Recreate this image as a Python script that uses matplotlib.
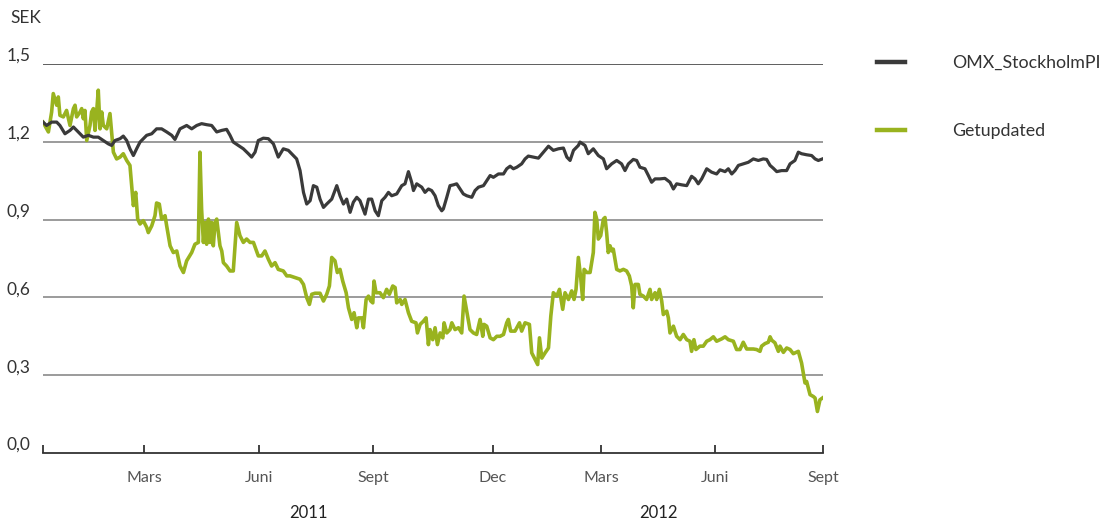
import matplotlib
matplotlib.use('Agg')
import matplotlib.pyplot as plt
from matplotlib.ticker import FuncFormatter, FixedLocator
import matplotlib.transforms as mtransforms

plt.rcParams['font.family'] = ['Lato', 'DejaVu Sans']

# x = handelsdag (index från start), y = SEK
omx_day = [0, 2.0, 4.8, 7.6, 9.4, 12.2, 15, 16.9, 19.6, 22.4, 25.2, 28, 30.7, 33.5, 36.3, 38.1, 40, 42.8, 44.6,
           46.5, 48.3, 50.2, 52, 53.9, 57.6, 60.4, 63.1, 65.9, 68.7, 71.5, 73.3, 76.1, 79.8, 82.6, 85.4, 88.1,
           90.9, 93.7, 96.5, 99.3, 102, 103.9, 105.7, 108.5, 111.3, 114.1, 115.9, 117.8, 119.6, 122.4, 125.2,
           128, 130.7, 133.5, 136.3, 139.1, 140.9, 142.8, 144.7, 146.5, 148.4, 150.2, 152.1, 153.9, 155.8,
           157.6, 160.4, 163.2, 165.0, 166.9, 168.7, 170.6, 172.4, 174.3, 176.1, 178.9, 180.8, 182.6, 184.5,
           186.3, 188.2, 190.0, 191.9, 193.7, 196.5, 199.3, 201.1, 203.0, 204.8, 205.8, 207.6, 210.4, 212.2,
           214.1, 215.9, 217.8, 219.6, 221.5, 222.4, 224.3, 226.1, 228.0, 229.8, 231.7, 233.5, 235.4, 238.2,
           240.0, 241.9, 244.7, 246.5, 248.4, 250.2, 253.0, 255.8, 257.6, 259.5, 261.3, 263.2, 265.9, 267.8,
           269.6, 272.4, 275.2, 278.0, 280.8, 283.5, 286.3, 289.1, 291.0, 292.8, 294.7, 297.4, 298.3, 301.1,
           302.9, 305.7, 308.5, 311.3, 313.1, 315.9, 318.7, 321.4, 323.3, 325.2, 327.9, 329.8, 331.6, 334.4,
           336.3, 338.1, 340.0, 342.7, 345.5, 348.3, 350.2, 352.0, 354.8, 357.6, 360.3, 362.2, 364.0, 365.9,
           368.7, 371.4, 374.2, 376.1, 378.9, 380.7, 382.6, 384.4, 386.3, 389.0, 391.8, 394.6, 397.4, 400.1,
           402.0, 403.9, 405.7, 407.6, 410.3, 413.1, 415.0, 417.7, 419.6, 421.4, 424.2, 427.0, 428.9, 430.7, 433]
omx_val = [1.276, 1.263, 1.276, 1.276, 1.263, 1.231, 1.244, 1.257, 1.238, 1.218, 1.225, 1.218, 1.218, 1.205,
           1.192, 1.186, 1.205, 1.212, 1.222, 1.205, 1.173, 1.147, 1.173, 1.199, 1.225, 1.231, 1.250, 1.250,
           1.238, 1.225, 1.209, 1.250, 1.263, 1.250, 1.263, 1.270, 1.266, 1.263, 1.238, 1.244, 1.248, 1.225,
           1.199, 1.186, 1.173, 1.154, 1.141, 1.160, 1.205, 1.214, 1.212, 1.192, 1.141, 1.173, 1.167, 1.147,
           1.134, 1.089, 1.005, 0.960, 0.973, 1.031, 1.025, 0.979, 0.947, 0.960, 0.979, 1.031, 0.992, 0.960,
           0.979, 0.928, 0.967, 0.986, 0.973, 0.921, 0.979, 0.979, 0.934, 0.915, 0.973, 0.986, 1.005, 0.992,
           0.999, 1.031, 1.038, 1.085, 1.044, 1.012, 1.038, 1.025, 1.005, 1.018, 1.012, 0.992, 0.954, 0.934,
           0.941, 0.986, 1.031, 1.034, 1.038, 1.018, 0.999, 0.992, 0.986, 1.012, 1.025, 1.031, 1.050, 1.070,
           1.063, 1.076, 1.076, 1.096, 1.106, 1.096, 1.102, 1.115, 1.134, 1.145, 1.141, 1.137, 1.160, 1.183,
           1.167, 1.173, 1.176, 1.141, 1.128, 1.167, 1.186, 1.199, 1.186, 1.154, 1.173, 1.147, 1.134, 1.096,
           1.115, 1.128, 1.115, 1.089, 1.115, 1.132, 1.128, 1.102, 1.096, 1.070, 1.044, 1.057, 1.057, 1.059,
           1.044, 1.018, 1.038, 1.034, 1.031, 1.067, 1.057, 1.038, 1.057, 1.096, 1.083, 1.076, 1.092, 1.085,
           1.096, 1.076, 1.089, 1.109, 1.115, 1.121, 1.134, 1.128, 1.134, 1.132, 1.109, 1.098, 1.085, 1.089,
           1.089, 1.115, 1.128, 1.160, 1.154, 1.150, 1.147, 1.134, 1.128, 1.134]

get_day = [0, 3.0, 4.8, 5.7, 7.6, 8.5, 9.4, 11.3, 13.1, 15.0, 16.9, 17.8, 18.7, 20.6, 21.5, 22.4, 23.3, 24.3,
           26.1, 27.0, 28.0, 28.9, 29.8, 30.7, 31.7, 32.6, 33.5, 35.4, 37.2, 38.1, 39.1, 40.9, 42.8, 44.6, 46.5,
           48.3, 50.2, 51.5, 52.6, 53.9, 55.7, 57.6, 58.5, 60.4, 62.2, 63.1, 64.6, 65.9, 67.8, 68.7, 70.6, 72.4,
           74.3, 76.1, 78.0, 79.8, 82.6, 84.4, 86.3, 87.2, 88.1, 89.1, 90.0, 90.9, 91.9, 92.8, 93.7, 94.6, 95.6,
           96.5, 98.3, 99.3, 100.2, 102.0, 103.9, 105.7, 107.6, 109.4, 111.3, 113.1, 115.0, 116.9, 119.6, 121.5,
           123.3, 125.2, 127.0, 128.9, 130.7, 133.5, 135.4, 137.2, 142.8, 144.7, 146.5, 148.0, 149.3, 151.1,
           153.9, 155.8, 157.6, 159.1, 160.4, 162.2, 163.5, 165.0, 166.5, 168.4, 169.7, 171.5, 172.8, 174.3,
           175.2, 177.1, 178.0, 179.5, 180.8, 182.1, 183.2, 183.9, 185.0, 187.2, 189.1, 190.9, 192.4, 194.3,
           195.6, 196.5, 198.4, 199.3, 201.1, 203.0, 204.8, 207.2, 208.0, 209.5, 211.3, 212.8, 214.1, 215.0,
           216.5, 217.8, 219.1, 220.6, 222.1, 222.8, 224.3, 226.1, 227.1, 228.9, 230.8, 232.6, 233.9, 235.4,
           237.2, 239.1, 240.9, 242.8, 244.3, 245.0, 246.5, 248.4, 250.2, 252.1, 253.9, 255.8, 257.6, 258.5,
           259.8, 262.2, 264.7, 265.9, 267.8, 270.2, 271.5, 273.4, 274.8, 275.8, 277.1, 278.9, 280.8, 282.1,
           283.5, 285.4, 286.9, 288.7, 290.0, 291.9, 293.7, 295.0, 296.1, 297.4, 298.7, 299.8, 300.6, 302.1,
           303.9, 305.7, 306.6, 307.6, 308.5, 309.8, 311.3, 312.2, 313.1, 314.0, 315.0, 315.9, 316.8, 318.7,
           320.5, 322.4, 324.2, 325.7, 327.0, 327.9, 328.9, 330.7, 331.6, 333.5, 335.3, 337.2, 338.1, 340.0,
           340.9, 342.4, 343.7, 344.6, 346.5, 347.4, 348.3, 350.2, 352.0, 353.9, 355.7, 357.6, 359.4, 360.3,
           361.6, 362.7, 364.9, 366.8, 368.7, 370.5, 372.4, 374.2, 377.0, 378.9, 380.7, 383.5, 385.3, 387.2,
           389.0, 390.9, 394.6, 396.4, 398.3, 399.2, 401.1, 402.9, 403.9, 404.8, 406.6, 408.5, 409.4, 411.3,
           413.1, 415.0, 416.8, 419.6, 421.4, 423.3, 424.2, 426.1, 427.9, 428.9, 430.2, 431.6, 433]
get_val = [1.276, 1.238, 1.315, 1.386, 1.341, 1.373, 1.302, 1.296, 1.321, 1.263, 1.328, 1.341, 1.296, 1.315,
           1.328, 1.289, 1.321, 1.205, 1.263, 1.315, 1.328, 1.244, 1.315, 1.399, 1.250, 1.315, 1.263, 1.250,
           1.309, 1.238, 1.160, 1.134, 1.141, 1.154, 1.128, 1.109, 0.954, 1.005, 0.902, 0.883, 0.896, 0.870,
           0.850, 0.876, 0.915, 0.964, 0.960, 0.902, 0.915, 0.876, 0.799, 0.773, 0.779, 0.721, 0.696, 0.741,
           0.773, 0.805, 0.812, 1.160, 0.941, 0.812, 0.889, 0.805, 0.902, 0.812, 0.889, 0.799, 0.889, 0.902,
           0.799, 0.779, 0.734, 0.721, 0.702, 0.702, 0.889, 0.838, 0.812, 0.825, 0.812, 0.812, 0.760, 0.760,
           0.779, 0.747, 0.721, 0.734, 0.708, 0.702, 0.683, 0.683, 0.670, 0.650, 0.599, 0.573, 0.612, 0.616,
           0.616, 0.586, 0.612, 0.644, 0.754, 0.741, 0.696, 0.708, 0.663, 0.618, 0.560, 0.515, 0.541, 0.483,
           0.521, 0.521, 0.483, 0.592, 0.605, 0.586, 0.579, 0.663, 0.618, 0.618, 0.599, 0.631, 0.612, 0.644,
           0.638, 0.579, 0.592, 0.573, 0.592, 0.541, 0.508, 0.502, 0.463, 0.496, 0.508, 0.521, 0.418, 0.476,
           0.437, 0.483, 0.418, 0.463, 0.444, 0.502, 0.463, 0.476, 0.502, 0.476, 0.483, 0.463, 0.605, 0.547,
           0.476, 0.463, 0.457, 0.515, 0.450, 0.496, 0.489, 0.444, 0.437, 0.450, 0.450, 0.457, 0.502, 0.515,
           0.470, 0.470, 0.502, 0.470, 0.502, 0.496, 0.386, 0.360, 0.341, 0.444, 0.366, 0.386, 0.405, 0.528,
           0.618, 0.605, 0.631, 0.554, 0.618, 0.592, 0.625, 0.592, 0.631, 0.754, 0.676, 0.592, 0.708, 0.696,
           0.696, 0.773, 0.928, 0.902, 0.825, 0.838, 0.902, 0.908, 0.850, 0.773, 0.799, 0.779, 0.786, 0.708,
           0.702, 0.708, 0.702, 0.683, 0.644, 0.560, 0.650, 0.650, 0.612, 0.605, 0.592, 0.631, 0.592, 0.618,
           0.592, 0.631, 0.586, 0.534, 0.547, 0.521, 0.463, 0.489, 0.450, 0.437, 0.457, 0.437, 0.431, 0.392,
           0.437, 0.399, 0.412, 0.412, 0.431, 0.437, 0.448, 0.431, 0.440, 0.448, 0.437, 0.431, 0.399, 0.399,
           0.427, 0.401, 0.401, 0.399, 0.392, 0.412, 0.422, 0.427, 0.448, 0.435, 0.425, 0.392, 0.412, 0.388,
           0.405, 0.399, 0.383, 0.392, 0.347, 0.270, 0.276, 0.225, 0.218, 0.212, 0.160, 0.205, 0.212]

# månadsmarkeringar (handelsdag-index) och etiketter
tick_pos = [0, 56.1, 120, 183.3, 250, 310, 373.3, 433.3]
tick_lab = ['', 'Mars', 'Juni', 'Sept', 'Dec', 'Mars', 'Juni', 'Sept']
year_pos = [147.2, 341.7]
year_lab = ['2011', '2012']
y_ticks = [0.0, 0.3, 0.6, 0.9, 1.2, 1.5]

DARK = '#3a3a3a'
GREEN = '#99b31f'


# decimalkomma
def to_comma(y, position):
    return ('%.1f' % y).replace('.', ',')


fig = plt.figure(figsize=(11.06, 5.21), dpi=100)
ax = fig.add_axes([43 / 1106, 68 / 521, 780 / 1106, 389 / 521])

# stödlinjer
for yv in y_ticks[1:]:
    ax.axhline(yv, color='#333333' if yv == 1.5 else '#808080', lw=1.1, zorder=1)

l1, = ax.plot(omx_day, omx_val, color=DARK, lw=2.3, label='OMX_StockholmPI', zorder=3)
l2, = ax.plot(get_day, get_val, color=GREEN, lw=2.6, label='Getupdated', zorder=2)

ax.set_xlim(0, 433.3)
ax.set_ylim(0, 1.5)

for s in ['top', 'right', 'left']:
    ax.spines[s].set_visible(False)
ax.spines['bottom'].set_color('#333333')
ax.spines['bottom'].set_linewidth(1.3)

ax.xaxis.set_major_locator(FixedLocator(tick_pos))
ax.set_xticklabels(tick_lab)
ax.tick_params(axis='x', direction='in', length=6, width=1.3, color='#333333',
               pad=13, labelsize=11.5, labelcolor='#555555')

ax.set_yticks(y_ticks)
ax.yaxis.set_major_formatter(FuncFormatter(to_comma))
ax.tick_params(axis='y', length=0, pad=9, labelsize=12.5, labelcolor='#333333')
for lab in ax.get_yticklabels():
    lab.set_verticalalignment('bottom')

# årtal under axeln
trans = mtransforms.blended_transform_factory(ax.transData, ax.transAxes)
for xp, txt in zip(year_pos, year_lab):
    ax.text(xp, -0.155, txt, transform=trans, ha='center', va='center',
            fontsize=12, color='#222222')

fig.text(10 / 1106, 1 - 18 / 521, 'SEK', ha='left', va='center', fontsize=12.5, color='#333333')

leg = fig.legend(handles=[l1, l2], loc='upper left', bbox_to_anchor=(877 / 1106, 1 - 55 / 521),
                 frameon=False, fontsize=12.8, handlelength=1.6, handletextpad=2.6,
                 labelspacing=2.95, borderpad=0, borderaxespad=0)
for t in leg.get_texts():
    t.set_color('#333333')
for h in leg.legend_handles:
    h.set_linewidth(3.2)

fig.savefig('out.png', dpi=100)
